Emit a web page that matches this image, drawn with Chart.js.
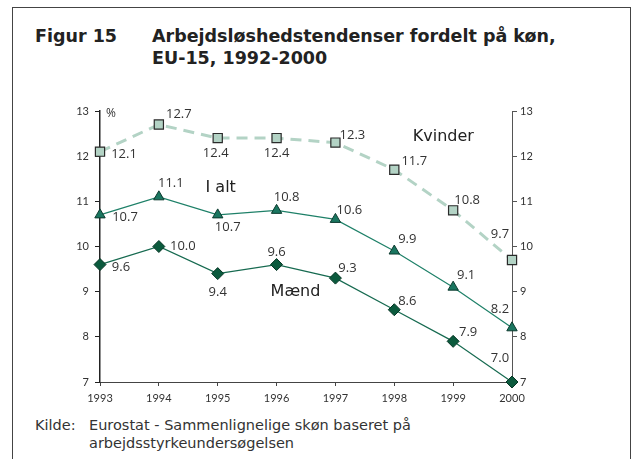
<!DOCTYPE html>
<html>
<head>
<meta charset="utf-8">
<script src="https://cdn.jsdelivr.net/npm/chart.js@4"></script>
<style>
  html, body { margin: 0; padding: 0; background: #fff; }
  body { width: 637px; height: 459px; position: relative; overflow: hidden; font-family: "DejaVu Sans", sans-serif; color: #333; }
  .frame { position: absolute; left: 12px; top: 7px; width: 619px; height: 470px; border: 1px solid #444; box-sizing: border-box; }
  .title { position: absolute; top: 25px; font-weight: bold; font-size: 17.5px; line-height: 22px; color: #222; }
  .src { position: absolute; top: 416px; font-size: 14.5px; line-height: 18px; color: #333; }
  #wrap { position: absolute; left: 0; top: 0; width: 637px; height: 459px; }
</style>
</head>
<body>
<div class="frame"></div>
<div class="title" style="left:35px">Figur 15</div>
<div class="title" style="left:152px">Arbejdsløshedstendenser fordelt på køn,<br>EU-15, 1992-2000</div>
<div class="src" style="left:35px">Kilde:</div>
<div class="src" style="left:89px">Eurostat - Sammenlignelige skøn baseret på<br>arbejdsstyrkeundersøgelsen</div>
<div id="wrap"><canvas id="chart"></canvas></div>
<script>
document.addEventListener('DOMContentLoaded', () => {
    // data
    const years = ['1993', '1994', '1995', '1996', '1997', '1998', '1999', '2000'];
    const kvinder = [12.1, 12.7, 12.4, 12.4, 12.3, 11.7, 10.8, 9.7];
    const iAlt = [10.7, 11.1, 10.7, 10.8, 10.6, 9.9, 9.1, 8.2];
    const maend = [9.6, 10.0, 9.4, 9.6, 9.3, 8.6, 7.9, 7.0];
    const yTicks = [7, 8, 9, 10, 11, 12, 13];

    // where each value label sits relative to its point
    const kvinderLbl = [[24, 3], [20, -10], [-2, 15], [0, 15], [17, -7], [20, -8], [14, -10], [-12, -26]];
    const iAltLbl = [[25, 2], [12, -14], [10, 12], [10, -13], [14, -9], [13, -12], [13, -12], [-12, -19]];
    const maendLbl = [[21, 3], [24, 0], [0, 19], [0, -12], [12, -10], [13, -8], [15, -9], [-12, -24]];

    const valueLabels = {
        id: 'valueLabels',
        afterDatasetsDraw(chart) {
            const ctx = chart.ctx;
            ctx.save();
            ctx.font = '13px "Open Sans", sans-serif';
            ctx.fillStyle = '#333';
            ctx.textAlign = 'center';
            ctx.textBaseline = 'middle';
            chart.data.datasets.forEach((ds, i) => {
                const meta = chart.getDatasetMeta(i);
                meta.data.forEach((pt, j) => {
                    const off = ds.labelOffsets[j];
                    ctx.fillText(ds.data[j].toFixed(1), pt.x + off[0], pt.y + off[1]);
                });
            });
            // series names and unit
            const xs = chart.scales.x, ys = chart.scales.y;
            ctx.font = '16px "DejaVu Sans", sans-serif';
            ctx.fillStyle = '#222';
            ctx.fillText('Kvinder', xs.getPixelForValue(5) + 49, ys.getPixelForValue(12.42));
            ctx.fillText('I alt', xs.getPixelForValue(2) + 3, ys.getPixelForValue(11.3));
            ctx.textAlign = 'left';
            ctx.fillText('Mænd', xs.getPixelForValue(3) - 6, ys.getPixelForValue(9.0));
            ctx.font = '12px "Open Sans", sans-serif';
            ctx.fillStyle = '#333';
            ctx.fillText('%', chart.chartArea.left + 6, chart.chartArea.top + 3);
            ctx.restore();
        }
    };

    new Chart(document.getElementById('chart'), {
        type: 'line',
        data: {
            labels: years,
            datasets: [{
                label: 'Kvinder',
                data: kvinder,
                labelOffsets: kvinderLbl,
                borderColor: '#b3d3c5',
                borderWidth: 3,
                borderDash: [11, 7],
                pointStyle: 'rect',
                pointRadius: 6.5,
                pointBackgroundColor: '#b3d3c5',
                pointBorderColor: '#2a2a2a',
                pointBorderWidth: 1.2,
                tension: 0
            }, {
                label: 'I alt',
                data: iAlt,
                labelOffsets: iAltLbl,
                borderColor: '#1e8068',
                borderWidth: 1.2,
                pointStyle: 'triangle',
                pointRadius: 6,
                pointBackgroundColor: '#1a7660',
                pointBorderColor: '#0c3a2e',
                pointBorderWidth: 1,
                tension: 0
            }, {
                label: 'Mænd',
                data: maend,
                labelOffsets: maendLbl,
                borderColor: '#166a50',
                borderWidth: 1.2,
                pointStyle: 'rectRot',
                pointRadius: 6,
                pointBackgroundColor: '#0b5a3d',
                pointBorderColor: '#063524',
                pointBorderWidth: 1,
                tension: 0
            }]
        },
        options: {
            responsive: false,
            animation: false,
            clip: false,
            layout: { padding: { top: 111, left: 0, right: 0, bottom: 0 } },
            plugins: { legend: { display: false }, tooltip: { enabled: false } },
            scales: {
                x: {
                    type: 'category',
                    offset: false,
                    grid: { drawOnChartArea: false, drawTicks: true, tickLength: 4, color: '#444' },
                    border: { display: true, color: '#444', width: 1 },
                    ticks: { color: '#333', font: { family: 'Lato', size: 11 }, padding: 6, maxRotation: 0 },
                    afterFit: (s) => { s.height = 77; }
                },
                y: {
                    position: 'left',
                    min: 7, max: 13,
                    afterBuildTicks: (s) => { s.ticks = yTicks.map(v => ({ value: v })); },
                    grid: { drawOnChartArea: false, drawTicks: true, tickLength: 5, color: '#222' },
                    border: { display: true, color: '#222', width: 1.5 },
                    ticks: { color: '#333', font: { family: 'Lato', size: 11 }, padding: 6 },
                    afterFit: (s) => { s.width = 100; }
                },
                y2: {
                    position: 'right',
                    min: 7, max: 13,
                    afterBuildTicks: (s) => { s.ticks = yTicks.map(v => ({ value: v })); },
                    grid: { drawOnChartArea: false, drawTicks: true, tickLength: 5, color: '#555' },
                    border: { display: true, color: '#555', width: 1 },
                    ticks: { color: '#333', font: { family: 'Lato', size: 11 }, padding: 3 },
                    afterFit: (s) => { s.width = 125; }
                }
            }
        },
        plugins: [valueLabels]
    });
});
</script>
<script>
  // size the canvas to the page
  const c = document.getElementById('chart');
  c.width = 637; c.height = 459;
  c.style.width = '637px'; c.style.height = '459px';
</script>
</body>
</html>
